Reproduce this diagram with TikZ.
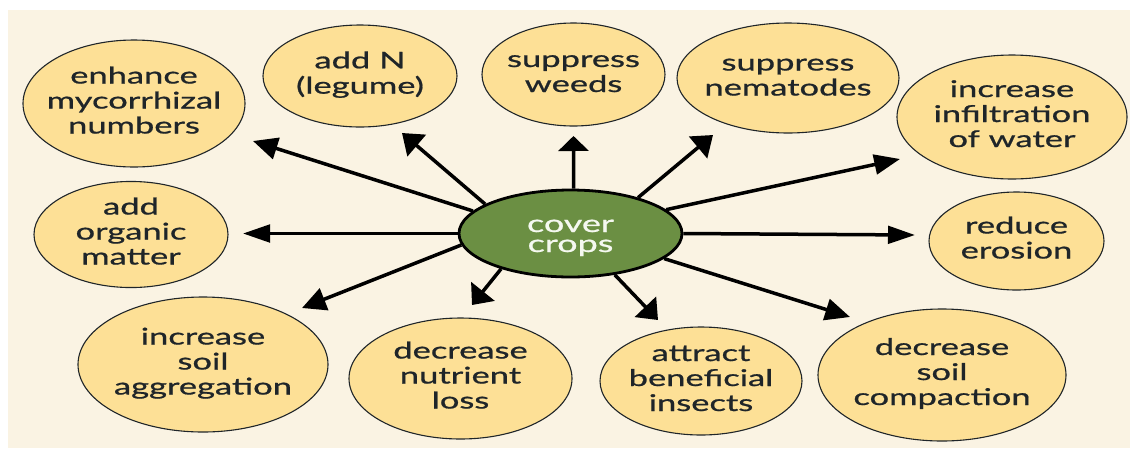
\documentclass[tikz,border=0pt]{standalone}
\usepackage{fontspec}
\setmainfont{Lato}[FakeStretch=1.5,FakeBold=0.8]
\usetikzlibrary{arrows.meta,shapes.geometric}
\definecolor{bgcream}{HTML}{FAF3E3}
\definecolor{bubblefill}{HTML}{FDE096}
\definecolor{leaf}{HTML}{6B8F43}
\definecolor{inkc}{HTML}{1F2529}
\definecolor{hubtext}{HTML}{F5F8F0}
\newcommand{\bubtxt}[1]{\makebox[0pt]{\begin{tabular}{@{}c@{}}#1\end{tabular}}}
\begin{document}
\begin{tikzpicture}[x=1pt,y=-1pt,
  bubble/.style={ellipse, draw=inkc, line width=1.1pt, fill=bubblefill, inner sep=0pt,
    font=\fontsize{23}{25}\selectfont, text=inkc},
  hub/.style={ellipse, draw=black, line width=2.8pt, fill=leaf, inner sep=0pt,
    minimum width=223pt, minimum height=87pt, font=\fontsize{24}{20}\selectfont, text=hubtext},
  spoke/.style={line width=3.5pt, black, line cap=butt}
]
\useasboundingbox (0,0) rectangle (1130,448);
\fill[bgcream] (8,10) rectangle (1130,448);

% hub
\node[hub] (c) at (570.5,233.5) {\bubtxt{\rule{0pt}{23pt}cover\\crops}};

% outer bubbles
\node[bubble, minimum width=222pt, minimum height=127pt] (enh) at (134,103.5) {\bubtxt{enhance\\mycorrhizal\\numbers}};
\node[bubble, minimum width=194pt, minimum height=102pt] (addn) at (360,76) {\bubtxt{add N\\(legume)}};
\node[bubble, minimum width=183pt, minimum height=103pt] (weeds) at (573.5,74.5) {\bubtxt{suppress\\weeds}};
\node[bubble, minimum width=222pt, minimum height=110pt] (nem) at (788,78) {\bubtxt{suppress\\nematodes}};
\node[bubble, minimum width=230pt, minimum height=124pt] (inf) at (1012,117) {\bubtxt{increase\\infiltration\\of water}};
\node[bubble, minimum width=175pt, minimum height=98pt] (ero) at (1016.5,241) {\bubtxt{reduce\\erosion}};
\node[bubble, minimum width=248pt, minimum height=132pt] (comp) at (942,375) {\bubtxt{decrease\\soil\\compaction}};
\node[bubble, minimum width=202pt, minimum height=108pt] (ins) at (701,381) {\bubtxt{attract\\beneficial\\insects}};
\node[bubble, minimum width=223pt, minimum height=121pt] (nut) at (460.5,378.5) {\bubtxt{decrease\\nutrient\\loss}};
\node[bubble, minimum width=250pt, minimum height=135pt] (agg) at (203,364.5) {\bubtxt{increase\\soil\\aggregation}};
\node[bubble, minimum width=194pt, minimum height=105pt] (org) at (131,234.5) {\bubtxt{add\\organic\\matter}};

% arrow tips
\coordinate (tEnh) at (253,141);
\coordinate (tAddn) at (402,133);
\coordinate (tWeeds) at (573.5,136);
\coordinate (tNem) at (713,135);
\coordinate (tInf) at (900,159);
\coordinate (tEro) at (915,235);
\coordinate (tComp) at (850,317);
\coordinate (tIns) at (658,320);
\coordinate (tNut) at (472,305);
\coordinate (tAgg) at (302,308);
\coordinate (tOrg) at (243,233.5);

% spokes
\draw[spoke, -{Triangle[length=24.5pt,width=21.9pt]}] (c.167.8) -- (tEnh);
\draw[spoke, -{Triangle[length=19.4pt,width=28pt]}] (c.161.2) -- (tAddn);
\draw[spoke, -{Triangle[length=15pt,width=30pt]}] (c.86.1) -- (tWeeds);
\draw[spoke, -{Triangle[length=19.5pt,width=27.9pt]}] (c.28) -- (tNem);
\draw[spoke, -{Triangle[length=25.8pt,width=19.8pt]}] (c.14.7) -- (tInf);
\draw[spoke, -{Triangle[length=27pt,width=17.5pt]}] (c.-0.6) -- (tEro);
\draw[spoke, -{Triangle[length=24.8pt,width=21.6pt]}] (c.-15.9) -- (tComp);
\draw[spoke, -{Triangle[length=18.3pt,width=29pt]}] (c.-43) -- (tIns);
\draw[spoke, -{Triangle[length=17.5pt,width=29.6pt]}] (c.207.4) -- (tNut);
\draw[spoke, -{Triangle[length=23.8pt,width=23pt]}] (c.186.9) -- (tAgg);
\draw[spoke, -{Triangle[length=27pt,width=17.5pt]}] (c.180) -- (tOrg);
\end{tikzpicture}
\end{document}
